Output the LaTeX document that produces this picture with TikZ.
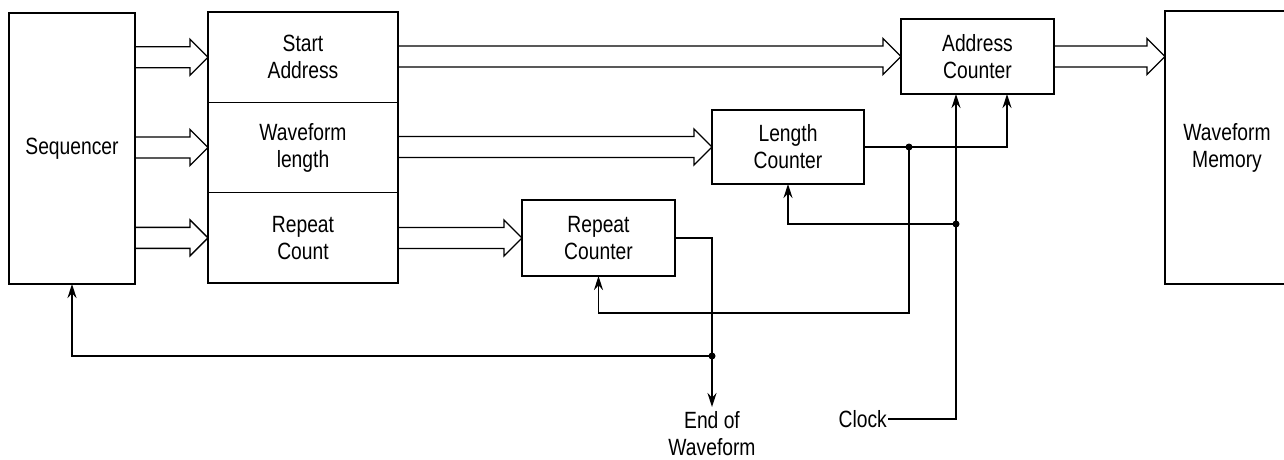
\documentclass[tikz,border=0pt]{standalone}
\usepackage{fontspec}
\setmainfont{Liberation Sans}[FakeStretch=0.82]
\usetikzlibrary{positioning,calc,arrows.meta}

% wide bus arrow: x from the first point, y and tip from the second
\newcommand{\bus}[2]{%
  \draw[busline] let \p1=#1, \p2=#2 in
    (\x1,\y2+10.5pt) -- (\x2-18pt,\y2+10.5pt) -- (\x2-18pt,\y2+18pt) -- (\x2,\y2)
    -- (\x2-18pt,\y2-18pt) -- (\x2-18pt,\y2-10.5pt) -- (\x1,\y2-10.5pt);}

\begin{document}
\begin{tikzpicture}[x=1pt, y=-1pt,
  >={Stealth[length=14pt,width=9pt]},
  every node/.style={font=\fontsize{23.5}{27}\selectfont},
  block/.style={draw, line width=2.2pt, align=center, inner sep=0pt, outer sep=0pt},
  regpart/.style={draw, line width=1.3pt, align=center, minimum width=190pt, minimum height=90.33pt, inner sep=0pt, outer sep=0pt},
  sig/.style={line width=1.4pt},
  busline/.style={line width=1.3pt, line join=miter}]
\useasboundingbox (0,0) rectangle (1284,460);

% Blocks
\node[block, minimum width=126pt, minimum height=271pt] (seq) at (72,148.5) {Sequencer};

\node[regpart] (start) at (303,57.2) {Start\\Address};
\node[regpart, below=0pt of start] (wlen) {Waveform\\length};
\node[regpart, below=0pt of wlen] (rcount) {Repeat\\Count};
\draw[line width=2.2pt] (start.north west) rectangle (rcount.south east);

\node[block, minimum width=152pt, minimum height=74pt] (lenc) at (788,147) {Length\\Counter};
\node[block, minimum width=153pt, minimum height=76pt] (repc) at (598.5,238) {Repeat\\Counter};
\node[block, minimum width=153pt, minimum height=75pt] (addr) at (977.5,56.5) {Address\\Counter};
\node[block, minimum width=124pt, minimum height=273pt] (mem) at (1227,147.5) {Waveform\\Memory};

% Labels
\node[anchor=north, align=center, inner sep=4pt] (eow) at (712,407) {End of\\Waveform};
\node[anchor=east, inner sep=1pt] (clk) at (888,419) {Clock};

% Buses
\bus{(seq.east)}{(start.west)}
\bus{(seq.east)}{(wlen.west)}
\bus{(seq.east)}{(rcount.west)}
\bus{(start.east)}{(addr.west)}
\bus{(wlen.east)}{(lenc.west)}
\bus{(rcount.east)}{(repc.west)}
\bus{(addr.east)}{(mem.west |- addr.east)}

% Control lines
\coordinate (lenj) at ($(lenc.east)+(45,0)$);
\coordinate (clkj) at ([xshift=-21.5pt]addr.south |- 0,224);
\coordinate (eowj) at (eow.north |- 0,356);

\draw[sig, ->] (clk.east) -| ([xshift=-21.5pt]addr.south);
\draw[sig, ->] (clkj) -| (lenc.south);
\draw[sig, ->] (lenc.east) -| ([xshift=29.5pt]addr.south);
\draw[sig, ->] (lenj) -- ++(0,166) -| (repc.south);
\draw[sig, ->] (repc.east) -| (eow.north);
\draw[sig, ->] (eowj) -| (seq.south);
\foreach \j in {lenj,clkj,eowj} \fill (\j) circle (3.5pt);

\end{tikzpicture}
\end{document}
